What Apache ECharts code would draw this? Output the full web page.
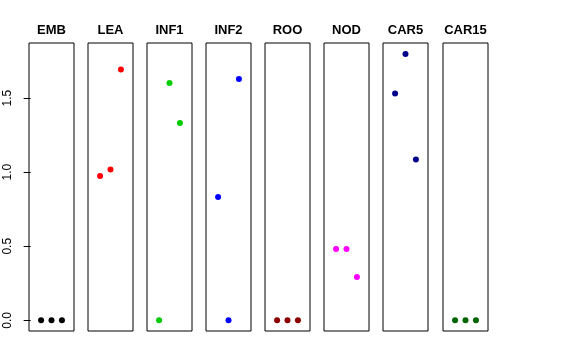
<!DOCTYPE html>
<html>
<head>
<meta charset="utf-8">
<script src="https://cdn.jsdelivr.net/npm/echarts@6/dist/echarts.min.js"></script>
<style>html,body{margin:0;padding:0;background:#fff}#c{width:576px;height:360px}</style>
</head>
<body>
<div id="c"></div>
<script>
var categories = ['EMB', 'LEA', 'INF1', 'INF2', 'ROO', 'NOD', 'CAR5', 'CAR15'];
var colors = ['#000000', '#FF0000', '#00CD00', '#0000FF', '#8B0000', '#FF00FF', '#00008B', '#006400'];
var positions = [1, 2, 3];
var EMB = [0, 0, 0];
var LEA = [0.975, 1.018, 1.693];
var INF1 = [0, 1.602, 1.332];
var INF2 = [0.833, 0, 1.629];
var ROO = [0, 0, 0];
var NOD = [0.481, 0.481, 0.292];
var CAR5 = [1.531, 1.798, 1.086];
var CAR15 = [0, 0, 0];
var yTicks = [0, 0.5, 1.0, 1.5];
var seriesValues = [EMB, LEA, INF1, INF2, ROO, NOD, CAR5, CAR15];

var panelLeft = [29, 88, 147, 206, 265, 324, 383, 443];
var grids = [], xAxes = [], yAxes = [], series = [];
categories.forEach(function (name, i) {
  grids.push({ left: panelLeft[i], top: 43, width: 45, height: 288, show: true,
    borderColor: '#000', borderWidth: 1, backgroundColor: 'transparent', containLabel: false });
  xAxes.push({ gridIndex: i, type: 'value', min: -0.16, max: 4.16, position: 'top',
    name: name, nameLocation: 'middle', nameGap: 6,
    nameTextStyle: { fontFamily: 'Liberation Sans', fontWeight: 'bold', fontSize: 13, color: '#000' },
    axisLine: { show: false }, axisTick: { show: false }, axisLabel: { show: false }, splitLine: { show: false } });
  var ya = { gridIndex: i, type: 'value', min: -0.072, max: 1.872,
    axisLine: { show: false }, splitLine: { show: false } };
  if (i === 0) {
    ya.axisTick = { show: true, length: 7, customValues: yTicks, lineStyle: { color: '#000', width: 1 } };
    ya.axisLabel = { show: true, customValues: yTicks, rotate: 90, margin: 15,
      fontFamily: 'Liberation Sans', fontSize: 12, color: '#000',
      formatter: function (v) { return v.toFixed(1); } };
  } else {
    ya.axisTick = { show: false };
    ya.axisLabel = { show: false };
  }
  yAxes.push(ya);
  series.push({ type: 'scatter', xAxisIndex: i, yAxisIndex: i, symbol: 'circle', symbolSize: 6,
    itemStyle: { color: colors[i], opacity: 1 }, silent: true,
    data: positions.map(function (p, j) { return [p, seriesValues[i][j]]; }) });
});

var chart = echarts.init(document.getElementById('c'), null, { renderer: 'canvas' });
chart.setOption({ animation: false, backgroundColor: '#fff', grid: grids, xAxis: xAxes, yAxis: yAxes, series: series });
</script>
</body>
</html>
